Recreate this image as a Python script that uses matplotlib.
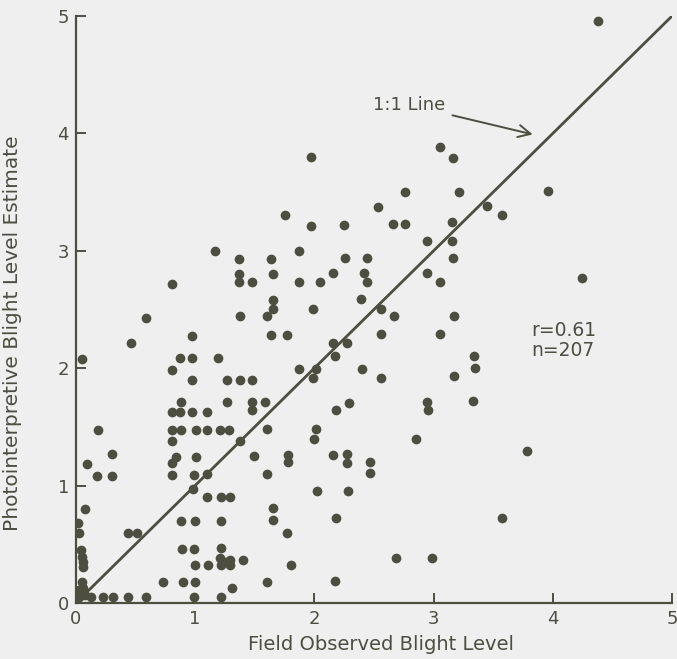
import matplotlib
matplotlib.use('Agg')
import matplotlib.pyplot as plt

# field observed blight level (x) vs photointerpretive estimate (y)
field_obs = [4.38, 1.97, 3.05, 3.16, 2.76, 3.21, 3.96, 2.53, 3.45, 3.57,
             1.75, 1.97, 2.25, 2.66, 2.76, 3.15, 2.94, 3.15, 3.16, 1.64,
             1.87, 2.26, 2.44, 1.17, 1.37, 0.81, 1.37, 1.37, 1.48, 1.65,
             1.87, 2.05, 2.16, 2.42, 2.44, 2.94, 3.05, 4.24, 1.65, 1.65,
             1.60, 1.99, 2.39, 2.56, 2.67, 3.17, 1.38, 0.59, 0.97, 1.64,
             1.77, 2.56, 3.05, 2.16, 2.27, 0.46, 2.17, 3.34, 3.35, 1.87,
             2.01, 1.99, 2.40, 2.56, 3.17, 0.05, 0.87, 0.97, 1.19, 0.81,
             0.97, 1.27, 1.38, 1.48, 0.88, 1.27, 1.48, 1.59, 0.81, 0.87,
             0.97, 1.10, 1.48, 2.29, 2.18, 2.94, 2.95, 3.33, 0.19, 0.81,
             0.88, 1.01, 1.10, 1.21, 1.28, 1.60, 2.01, 2.00, 2.85, 0.81,
             1.38, 0.30, 0.84, 0.81, 1.01, 1.49, 1.78, 1.78, 2.16, 2.27,
             2.27, 2.47, 0.09, 3.78, 2.47, 1.60, 0.18, 0.30, 0.81, 0.99,
             1.10, 0.98, 2.02, 2.28, 1.10, 1.22, 1.29, 1.65, 1.65, 0.08,
             0.02, 0.88, 1.00, 1.22, 2.18, 3.57, 1.77, 0.03, 0.44, 0.51,
             0.04, 0.89, 0.99, 1.22, 0.05, 0.06, 0.06, 1.00, 1.11, 1.21,
             1.26, 1.29, 1.29, 1.22, 1.40, 1.80, 2.68, 2.99, 1.60, 2.17,
             0.05, 0.73, 0.90, 1.00, 0.03, 0.06, 1.31, 0.99, 0.03, 0.13,
             0.23, 0.31, 0.44, 0.59, 1.22, 0.08]
photo_est = [4.96, 3.80, 3.88, 3.79, 3.50, 3.50, 3.51, 3.37, 3.38, 3.30,
             3.30, 3.21, 3.22, 3.23, 3.23, 3.24, 3.08, 3.08, 2.94, 2.93,
             3.00, 2.94, 2.94, 3.00, 2.93, 2.72, 2.80, 2.73, 2.73, 2.80,
             2.73, 2.73, 2.81, 2.81, 2.73, 2.81, 2.73, 2.77, 2.58, 2.50,
             2.44, 2.50, 2.59, 2.50, 2.44, 2.44, 2.44, 2.43, 2.27, 2.28,
             2.28, 2.29, 2.29, 2.21, 2.21, 2.21, 2.10, 2.10, 2.00, 1.99,
             1.99, 1.92, 1.99, 1.92, 1.93, 2.08, 2.09, 2.09, 2.09, 1.98,
             1.90, 1.90, 1.90, 1.90, 1.71, 1.71, 1.71, 1.71, 1.63, 1.63,
             1.63, 1.63, 1.64, 1.70, 1.64, 1.71, 1.64, 1.72, 1.47, 1.47,
             1.47, 1.47, 1.47, 1.47, 1.47, 1.48, 1.48, 1.40, 1.40, 1.38,
             1.38, 1.27, 1.24, 1.19, 1.24, 1.25, 1.26, 1.20, 1.26, 1.27,
             1.19, 1.20, 1.18, 1.29, 1.11, 1.10, 1.08, 1.08, 1.09, 1.09,
             1.10, 0.97, 0.95, 0.95, 0.90, 0.90, 0.90, 0.81, 0.71, 0.80,
             0.68, 0.70, 0.70, 0.70, 0.72, 0.72, 0.60, 0.60, 0.60, 0.60,
             0.45, 0.46, 0.46, 0.47, 0.39, 0.35, 0.31, 0.32, 0.32, 0.38,
             0.35, 0.37, 0.32, 0.32, 0.37, 0.32, 0.38, 0.38, 0.18, 0.19,
             0.18, 0.18, 0.18, 0.18, 0.11, 0.13, 0.13, 0.05, 0.05, 0.05,
             0.05, 0.05, 0.05, 0.05, 0.05, 0.07]

ticks = [0, 1, 2, 3, 4, 5]
tick_labels = ['0', '1', '2', '3', '4', '5']
stats_text = 'r=0.61\nn=207'

ink = '#4d4d40'
paper = '#efefef'

fig = plt.figure(figsize=(6.77, 6.59), dpi=100)
fig.patch.set_facecolor(paper)
ax = fig.add_axes([0.112, 0.085, 0.881, 0.891])
ax.set_facecolor(paper)

ax.plot(field_obs, photo_est, 'o', color=ink, ms=7, mec='none', zorder=3)
ax.plot([0, 5], [0, 5], color=ink, lw=2.0, zorder=2)

ax.set_xlim(0, 5)
ax.set_ylim(0, 5)
for side in ['top', 'right']:
    ax.spines[side].set_visible(False)
for side in ['left', 'bottom']:
    ax.spines[side].set_color(ink)
    ax.spines[side].set_linewidth(1.6)

ax.set_xticks(ticks)
ax.set_xticklabels(tick_labels)
ax.set_yticks(ticks)
ax.set_yticklabels(tick_labels)
ax.tick_params(direction='in', length=7, width=1.4, color=ink,
               labelcolor=ink, labelsize=13, pad=5)

ax.set_xlabel('Field Observed Blight Level', fontsize=14, color=ink)
ax.set_ylabel('Photointerpretive Blight Level Estimate', fontsize=14.5,
              color=ink)
ax.xaxis.set_label_coords(0.512, -0.054)
ax.yaxis.set_label_coords(-0.09, 0.46)

ax.annotate('1:1 Line', xy=(3.83, 3.99), xytext=(3.10, 4.24),
            ha='right', va='center', fontsize=13, color=ink,
            arrowprops=dict(arrowstyle='->', color=ink, lw=1.4,
                            mutation_scale=22, shrinkA=3, shrinkB=0))

ax.text(3.82, 2.40, stats_text, ha='left', va='top', fontsize=13.5,
        color=ink, linespacing=1.05)

fig.savefig('out.png', dpi=100, facecolor=paper)
